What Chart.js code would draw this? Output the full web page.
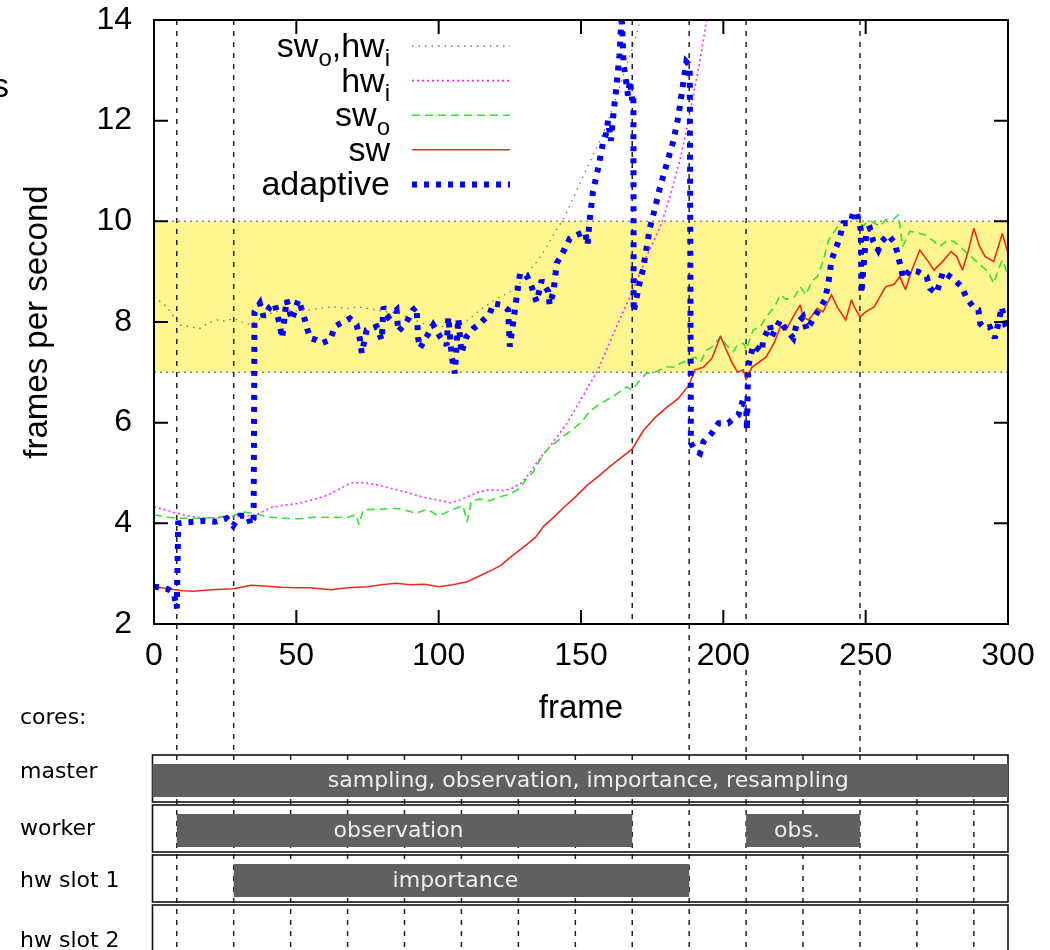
<!DOCTYPE html>
<html><head><meta charset="utf-8">
<script src="https://cdn.jsdelivr.net/npm/chart.js@4.4.1/dist/chart.umd.min.js"></script>
<style>html,body{margin:0;padding:0;background:#fff;overflow:hidden}#wrap{width:1050px;height:950px;position:relative}</style>
</head><body><div id="wrap"><canvas id="c" width="1050" height="950"></canvas></div>
<script>
// ---------------- data ----------------
const swFrames = [0,5,10,14,20,28,34,40,45,50,55,62,68,75,80,85,90,95,100,105,110,113,116,119,122,125,128,131,134,137,140,144,148,152,156,160,164,168,172,176,180,184,188,190,193,196,199,201,203,205,207,208,210,212,215,218,220,222,225,227,228,230,233,235,238,240,243,245,246,248,250,253,255,257,260,262,264,266,269,272,274,277,280,282,284,286,288,290,292,295,298,300];
const swFps = [2.74,2.70,2.66,2.65,2.68,2.70,2.77,2.75,2.73,2.72,2.72,2.68,2.72,2.74,2.78,2.81,2.78,2.79,2.74,2.78,2.84,2.92,3.0,3.08,3.17,3.32,3.45,3.58,3.72,3.95,4.1,4.32,4.52,4.75,4.93,5.12,5.3,5.48,5.85,6.1,6.3,6.47,6.75,7.05,7.1,7.28,7.72,7.45,7.2,7.0,7.05,6.85,7.1,7.18,7.3,7.6,7.9,7.84,8.15,8.34,8.1,8.04,8.27,8.2,8.54,8.3,8.04,8.44,8.3,8.1,8.2,8.3,8.5,8.7,8.75,8.9,8.64,9.0,9.43,9.2,9.03,9.2,9.4,9.3,9.03,9.4,9.86,9.5,9.3,9.2,9.76,9.36];

const swoFrames = [0,5,10,16,22,28,31,35,40,45,51,56,63,68,71,72,73.5,79,85,89,92,96,100,104,108.5,110,111.5,114.5,118,121.5,125,128.6,131,133,136,139,142,146,150,153,156,159,162,166,168,170,173,176,180,183,185,188,190,192,194,196,199,201,203.5,205,207,208,210.5,213,215,218,220,222,225,227,229,231,233,235,237,239,241,243,245,247,249,250,252,255,257,260,261.5,263,265.5,268,271,274,276,279,281,283,285,287,289,291,293,295,297,298,300];
const swoFps = [4.17,4.12,4.1,4.1,4.12,4.15,4.23,4.2,4.13,4.1,4.09,4.12,4.12,4.12,4.17,3.97,4.27,4.28,4.3,4.25,4.2,4.28,4.15,4.25,4.35,4.03,4.45,4.48,4.45,4.53,4.58,4.7,4.9,5.0,5.3,5.52,5.65,5.82,6.0,6.22,6.35,6.45,6.55,6.71,6.65,6.8,6.98,7.0,7.11,7.1,7.18,7.25,7.3,7.2,7.44,7.5,7.71,7.55,7.41,7.55,7.58,7.45,7.84,7.9,8.1,8.3,8.54,8.45,8.5,8.7,8.54,8.8,8.9,9.2,9.63,9.8,9.96,10.0,10.05,10.1,9.9,9.96,10.0,9.9,10.03,10.05,10.13,9.5,9.8,9.78,9.73,9.6,9.5,9.63,9.6,9.5,9.4,9.3,9.2,9.1,9.0,8.77,9.1,9.23,8.94];

const hwiFrames = [0,5,10,15,20,28,33,36,40,42,46,51,56,61,65,69,73,78,83,88,92,96,100,104,107,110,114,117,120,123,126,129,132,135,139,142,145,148.5,152,155.6,159,162.5,166,168.3,171,173,176,178.5,181,184.8,187,189.4,191.5,194,196];
const hwiFps = [4.33,4.25,4.17,4.12,4.1,4.13,4.15,4.17,4.28,4.33,4.36,4.4,4.47,4.56,4.68,4.8,4.81,4.77,4.7,4.63,4.56,4.5,4.46,4.41,4.45,4.53,4.62,4.66,4.66,4.65,4.7,4.8,5.0,5.25,5.52,5.75,5.98,6.32,6.66,7.01,7.45,7.91,8.35,8.64,9.0,9.3,9.66,9.99,10.45,11.22,11.8,12.48,13.1,13.94,14.5];

const swoHwiFrames = [0,4.5,9,13,16,19,22,25,28,31,34,38,42,45,50,55,59,63,68,72,75,80,86,91,96,101.5,105,108.6,112,116,120,125,128,131,133,135,138,141,144,148,152,155,159,162,164.8,168.4,170.7,172];
const swoHwiFps = [8.5,8.3,7.94,7.9,7.87,7.98,8.04,8.02,8.07,8.0,7.94,8.1,8.2,8.24,8.22,8.24,8.28,8.3,8.27,8.3,8.27,8.22,8.17,8.05,7.94,7.91,7.92,7.97,8.12,8.3,8.45,8.6,8.75,8.93,9.1,9.23,9.5,9.8,10.06,10.55,11.05,11.4,11.91,12.4,12.9,13.5,13.97,14.3];

const adaptiveFrames = [0,3,5,7,8,8.5,11,14,17.6,21.4,25.5,27.8,30.2,33,34,35,35.3,37.2,38.5,40.7,42.4,44.3,45,46.6,48.4,50.7,52.4,53.6,54.8,57.1,58.9,61.8,63.6,65.3,68.8,71.2,72.4,73,74.7,78.2,80,80.6,82.3,85.2,85.8,88.7,91,92.2,92.8,93.4,95.8,98.1,100.5,102.8,103.4,104.6,105.7,106.9,108,109.8,112.2,114.5,118,119.2,122.1,124.4,125,126.2,127.4,128.6,130.9,132.7,134.4,136.2,138.5,139,140.3,141.5,143.8,146.1,148.5,151.4,152.3,153,154.2,156,157.7,159,159.5,160.5,161.5,162.5,163.5,164.3,165,165.8,166.5,167.2,168,168.4,168.5,169.5,170.7,171.9,173,174.2,175.4,177.7,180,182.4,184.1,185.3,187,188.2,188.6,190,191.8,193,195.9,198.3,201.7,202.9,205.3,206.5,208,208.3,208.7,210.5,213.5,214,216.4,217,220,221.8,224.6,225.8,228,229.3,232.8,235.7,236.9,238,239.8,241,242.1,244.5,245.6,246.8,248.3,248.5,250.3,251.5,252.7,254.4,255.6,258,260.3,262,263.2,265.5,268.4,271.4,272.6,274.9,277.2,281.4,283.7,285.5,287.8,289.6,290.2,291.9,293.6,295.4,296.6,297.8,299,300];
const adaptiveFps = [2.74,2.72,2.69,2.6,2.31,4.0,4.02,4.03,4.05,4.03,4.1,3.95,4.15,4.15,3.97,4.1,8.2,8.37,8.1,8.3,8.37,7.91,7.68,8.44,8.04,8.44,8.17,7.91,7.68,7.64,7.58,7.64,7.91,7.97,8.07,7.94,7.64,7.38,7.84,7.91,7.64,8.3,8.1,8.24,7.81,8.0,8.24,8.3,7.68,7.48,7.71,7.94,7.71,7.54,8.1,7.31,6.98,8.07,7.38,7.71,7.87,7.97,8.17,8.37,8.34,8.24,7.51,8.0,8.5,8.97,8.93,8.7,8.4,8.83,8.6,8.34,8.6,9.17,9.4,9.66,9.73,9.8,9.53,10.0,10.59,11.05,11.55,11.78,12.0,11.6,12.2,12.7,13.3,14.1,13.1,12.8,12.5,12.8,12.4,12.5,8.2,8.48,8.8,9.07,9.46,9.87,10.13,10.66,11.12,11.59,12.05,12.51,13.17,13.1,5.6,5.45,5.39,5.62,5.79,5.99,5.99,6.05,6.15,6.38,6.35,5.85,7.11,7.54,7.41,7.64,7.94,7.71,8.04,7.87,7.68,7.97,8.1,7.84,8.17,8.44,8.77,9.23,9.5,9.7,9.96,9.96,10.16,10.19,9.83,8.57,9.83,9.86,9.6,9.43,9.6,9.73,9.56,9.17,8.87,9.03,9.0,8.9,8.67,8.57,9.0,8.83,8.7,8.47,8.3,8.24,7.97,7.87,7.9,7.68,7.97,8.3,7.97,8.0];

const xTickValues = [0,50,100,150,200,250,300];
const yTickValues = [2,4,6,8,10,12,14];
const bandLow = 7, bandHigh = 10;
const phaseFrames = [8,28,168,188,208,248];
const gapFrames = [8,28,188,208,248];
const slotGridFrames = [8,28,48,68,88,108,128,148,168,188,208,228,248,268,288];
const coreRows = ['master','worker','hw slot 1','hw slot 2'];
const taskRow = [0,1,1,2];
const taskStart = [0,8,208,28];
const taskEnd = [300,168,248,188];
const taskLabel = ['sampling, observation, importance, resampling','observation','obs.','importance'];

// ---------------- layout / style ----------------
const L = {plotLeft:154, plotRightPad:42, plotTop:20, xAxisH:326,
  tlTop:755, rowPitch:50, rowH:47, barDy:9, barH:33,
  rowLabelX:20, rowLabelY:[772,829,881,941], coresY:718,
  legendRight:390, legendLineX0:412, legendLineX1:510, legendY0:46, legendStep:34.6};
const MAIN = 'Liberation Sans, Arial, sans-serif';
const TL = 'DejaVu Sans, sans-serif';

const pts = (fs, vs) => fs.map((f,i)=>({x:f, y:vs[i]}));

const datasets = [
  {label:'sw_o,hw_i', data:pts(swoHwiFrames,swoHwiFps), borderColor:'#777', borderWidth:1.3, borderDash:[1.5,5], order:4},
  {label:'hw_i', data:pts(hwiFrames,hwiFps), borderColor:'#ff22ff', borderWidth:1.6, borderDash:[2,3], order:3},
  {label:'sw_o', data:pts(swoFrames,swoFps), borderColor:'#2ee62e', borderWidth:1.6, borderDash:[8,5], order:2},
  {label:'sw', data:pts(swFrames,swFps), borderColor:'#ee2a1a', borderWidth:1.6, borderDash:[], order:1},
  {label:'adaptive', data:pts(adaptiveFrames,adaptiveFps), borderColor:'#0000ff', borderWidth:6, borderDash:[5,7], order:0}
].map(d=>Object.assign(d,{pointRadius:0, tension:0, fill:false, clip:0, borderCapStyle:'butt', borderJoinStyle:'miter'}));

function drawRich(ctx, label, rightX, midY){
  const parts = label.split(/(_\w)/).filter(s=>s.length);
  const segs = parts.map(p=>p[0]==='_'?{t:p.slice(1),sub:true}:{t:p,sub:false});
  const fMain = '34px '+MAIN, fSub = '24px '+MAIN;
  let w = 0;
  segs.forEach(s=>{ctx.font = s.sub?fSub:fMain; s.w = ctx.measureText(s.t).width; w += s.w;});
  let x = rightX - w;
  ctx.textAlign='left'; ctx.textBaseline='alphabetic'; ctx.fillStyle='#000';
  segs.forEach(s=>{ctx.font = s.sub?fSub:fMain; ctx.fillText(s.t, x, midY + (s.sub?20:11)); x += s.w;});
}

const deco = {
  id:'deco',
  beforeDatasetsDraw(chart){
    const {ctx, chartArea:a, scales:{x,y}} = chart;
    ctx.save();
    const yt = y.getPixelForValue(bandHigh), yb = y.getPixelForValue(bandLow);
    ctx.fillStyle = '#fff68f';
    ctx.fillRect(a.left, yt, a.right-a.left, yb-yt);
    ctx.strokeStyle = '#8a8a8a'; ctx.lineWidth = 1.5; ctx.setLineDash([2,4]);
    [yt,yb].forEach(yy=>{ctx.beginPath(); ctx.moveTo(a.left,yy); ctx.lineTo(a.right,yy); ctx.stroke();});
    ctx.strokeStyle = '#222'; ctx.lineWidth = 1.5; ctx.setLineDash([5,6]);
    phaseFrames.forEach(f=>{const px = x.getPixelForValue(f); ctx.beginPath(); ctx.moveTo(px,a.top); ctx.lineTo(px,a.bottom); ctx.stroke();});
    ctx.restore();
    ctx.miterLimit = 2.5;
  },
  afterDatasetsDraw(chart){ chart.ctx.miterLimit = 10; },
  afterDraw(chart){
    const {ctx, chartArea:a, scales:{x,y}} = chart;
    ctx.save();
    ctx.setLineDash([]); ctx.strokeStyle='#000'; ctx.lineWidth=2;
    ctx.strokeRect(a.left, a.top, a.right-a.left, a.bottom-a.top);
    xTickValues.forEach(v=>{const px=x.getPixelForValue(v); ctx.beginPath(); ctx.moveTo(px,a.bottom); ctx.lineTo(px,a.bottom-14); ctx.moveTo(px,a.top); ctx.lineTo(px,a.top+14); ctx.stroke();});
    yTickValues.forEach(v=>{const py=y.getPixelForValue(v); ctx.beginPath(); ctx.moveTo(a.left,py); ctx.lineTo(a.left+14,py); ctx.moveTo(a.right,py); ctx.lineTo(a.right-14,py); ctx.stroke();});
    const legendOrder = ['sw_o,hw_i','hw_i','sw_o','sw','adaptive'];
    legendOrder.forEach((lab,i)=>{
      const d = chart.data.datasets.find(ds=>ds.label===lab);
      const ly = L.legendY0 + i*L.legendStep;
      drawRich(ctx, lab, L.legendRight, ly);
      ctx.strokeStyle = d.borderColor; ctx.lineWidth = d.borderWidth; ctx.setLineDash(d.borderDash); ctx.lineCap='butt';
      ctx.beginPath(); ctx.moveTo(L.legendLineX0, ly); ctx.lineTo(L.legendLineX1, ly); ctx.stroke();
    });
    ctx.setLineDash([]); ctx.fillStyle='#000'; ctx.font='34px '+MAIN; ctx.textAlign='left'; ctx.textBaseline='alphabetic';
    ctx.fillText('s', -8, 97);
    ctx.font = x.options.ticks.font.size+'px '+MAIN;
    const labBot = a.bottom + 46;
    ctx.strokeStyle='#222'; ctx.lineWidth=1.5; ctx.setLineDash([5,6]);
    gapFrames.forEach(f=>{
      const px = x.getPixelForValue(f);
      let hit = false;
      xTickValues.forEach(v=>{const c=x.getPixelForValue(v); const hw=ctx.measureText(String(v)).width/2+2; if(Math.abs(px-c)<hw) hit=true;});
      ctx.beginPath();
      ctx.moveTo(px, hit ? labBot : a.bottom);
      ctx.lineTo(px, L.tlTop); ctx.stroke();
    });
    slotGridFrames.forEach(f=>{const px=x.getPixelForValue(f); ctx.beginPath(); ctx.moveTo(px,L.tlTop); ctx.lineTo(px,950); ctx.stroke();});
    ctx.setLineDash([]); ctx.strokeStyle='#111'; ctx.lineWidth=1.6;
    const x0 = x.getPixelForValue(0)-1.5, x1 = x.getPixelForValue(300);
    coreRows.forEach((r,i)=>{ const top = L.tlTop + i*L.rowPitch; ctx.strokeRect(x0, top, x1-x0, L.rowH); });
    taskRow.forEach((r,i)=>{
      const top = L.tlTop + r*L.rowPitch + L.barDy;
      const bx0 = i===0 ? x0 : x.getPixelForValue(taskStart[i]);
      const bx1 = x.getPixelForValue(taskEnd[i]);
      ctx.fillStyle='#606060'; ctx.fillRect(bx0, top, bx1-bx0, L.barH);
      ctx.fillStyle='#eeeeee'; ctx.font='22px '+TL; ctx.textAlign='center'; ctx.textBaseline='middle';
      ctx.fillText(taskLabel[i], (bx0+bx1)/2 + (i===0?8:-6), top + L.barH/2 + 1);
    });
    ctx.fillStyle='#000'; ctx.font='22px '+TL; ctx.textAlign='left'; ctx.textBaseline='middle';
    ctx.fillText('cores:', L.rowLabelX, L.coresY);
    coreRows.forEach((r,i)=>ctx.fillText(r, L.rowLabelX, L.rowLabelY[i]));
    ctx.restore();
  }
};

Chart.defaults.font.family = MAIN;
Chart.defaults.color = '#000';
new Chart(document.getElementById('c'), {
  type:'line',
  data:{datasets},
  options:{
    responsive:false, animation:false, devicePixelRatio:1,
    layout:{padding:{left:0, top:L.plotTop, right:L.plotRightPad, bottom:0}},
    plugins:{legend:{display:false}, tooltip:{enabled:false}},
    scales:{
      x:{type:'linear', min:0, max:300,
        afterFit(s){ s.height = L.xAxisH; s.paddingLeft = 0; s.paddingRight = 0; },
        afterBuildTicks(s){ s.ticks = xTickValues.map(v=>({value:v})); },
        ticks:{font:{size:32}, color:'#000', padding:13, maxRotation:0, autoSkip:false},
        grid:{display:false, drawTicks:false}, border:{display:false},
        title:{display:true, text:'frame', font:{size:33}, color:'#000', padding:{bottom:221, top:0}}},
      y:{min:2, max:14,
        afterFit(s){ s.width = L.plotLeft; s.paddingTop = 0; s.paddingBottom = 0; },
        afterBuildTicks(s){ s.ticks = yTickValues.map(v=>({value:v})); },
        ticks:{font:{size:32}, color:'#000', padding:22},
        grid:{display:false, drawTicks:false}, border:{display:false},
        title:{display:true, text:'frames per second', font:{size:33}, color:'#000', padding:{top:18, bottom:0}}}
    }
  },
  plugins:[deco]
});
</script></body></html>
